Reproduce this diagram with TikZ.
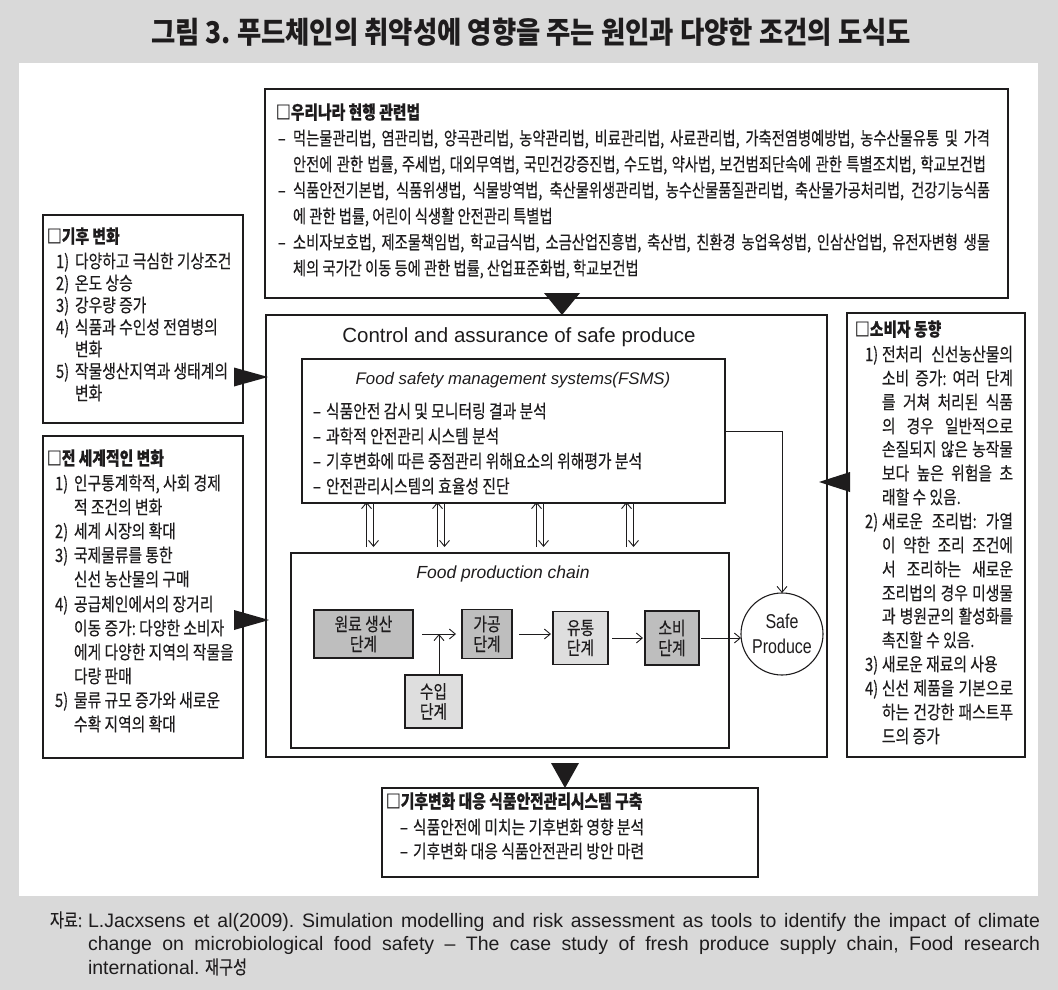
\documentclass[tikz,border=0pt]{standalone}
\usepackage{fontspec}
\usetikzlibrary{arrows.meta,calc}
\newfontfamily\kr[FakeStretch=0.80,FakeBold=0.25]{Noto Sans CJK KR}
\newfontfamily\krl[FakeStretch=0.772,FakeBold=0.25]{Noto Sans CJK KR}
\newfontfamily\krt[FakeStretch=0.88]{Noto Sans CJK KR}
\newfontfamily\lat{Liberation Sans}
\newfontfamily\latc[FakeStretch=0.8]{Liberation Sans}
\definecolor{bggray}{RGB}{217,217,217}
\definecolor{dbox}{RGB}{190,190,190}
\definecolor{lbox}{RGB}{222,222,222}
\definecolor{ink}{RGB}{30,28,29}
\newcommand\jus[2]{\hbox to #1pt{#2}}
\begin{document}
\frenchspacing
\begin{tikzpicture}[x=1pt,y=-1pt,
  every node/.style={inner sep=0pt,outer sep=0pt,text=ink},
  box/.style={draw=ink,line width=1.2pt,fill=white},
  txt/.style={anchor=base west,font=\kr\fontsize{18.5}{20}\selectfont},
  lawtxt/.style={anchor=base west,font=\krl\fontsize{18.5}{20}\selectfont},
  hdr/.style={anchor=base west,font=\kr\bfseries\fontsize{18.5}{20}\selectfont},
  stagebox/.style={draw=ink,line width=1.2pt,align=center,font=\kr\fontsize{18.5}{20}\selectfont},
  arrowline/.style={draw=ink,line width=0.9pt,-{Straight Barb[length=6pt,width=10pt]}},
  srctxt/.style={anchor=base west,font=\lat\frenchspacing\fontsize{19.5}{23}\selectfont},
  tri/.style={fill=ink}]
% background
\fill[bggray] (0,0) rectangle (1058,990);
\useasboundingbox (0,0) rectangle (1058,990);
\fill[white] (19,63) rectangle (1038,896);

% title
\node[font=\krt\bfseries\fontsize{30}{32}\selectfont] (title) at (531,32) {그림 3. 푸드체인의 취약성에 영향을 주는 원인과 다양한 조건의 도식도};

% boxes
\node[box,minimum width=743pt,minimum height=209pt] (law) at (636.5,193.5) {};
\node[box,minimum width=200pt,minimum height=208pt] (clim) at (143,319) {};
\node[box,minimum width=200pt,minimum height=322pt] (glob) at (143,597) {};
\node[box,minimum width=178pt,minimum height=444pt] (cons) at (936,535) {};
\node[box,minimum width=561pt,minimum height=442pt] (big) at (546.5,536) {};
\node[box,minimum width=423pt,minimum height=144pt] (fsms) at (513.5,431) {};
\node[box,minimum width=438pt,minimum height=195pt] (chain) at (510,650.5) {};
\node[box,minimum width=376pt,minimum height=89pt] (bot) at (570,832.5) {};

% law box text
\node[hdr] (lawh) at (276,119) {□우리나라 현행 관련법};
\node[lawtxt] (lawd1) at (278,145) {–};
\node[lawtxt] (law1) at (293,145) {\jus{697}{먹는물관리법, 염관리법, 양곡관리법, 농약관리법, 비료관리법, 사료관리법, 가축전염병예방법, 농수산물유통 및 가격}};
\node[lawtxt] (law2) at (293,171) {\jus{693}{안전에 관한 법률, 주세법, 대외무역법, 국민건강증진법, 수도법, 약사법, 보건범죄단속에 관한 특별조치법, 학교보건법}};
\node[lawtxt] (lawd3) at (278,197) {–};
\node[lawtxt] (law3) at (293,197) {\jus{697}{식품안전기본법, 식품위생법, 식물방역법, 축산물위생관리법, 농수산물품질관리법, 축산물가공처리법, 건강기능식품}};
\node[lawtxt] (law4) at (293,223) {에 관한 법률, 어린이 식생활 안전관리 특별법};
\node[lawtxt] (lawd5) at (278,249) {–};
\node[lawtxt] (law5) at (293,249) {\jus{697}{소비자보호법, 제조물책임법, 학교급식법, 소금산업진흥법, 축산법, 친환경 농업육성법, 인삼산업법, 유전자변형 생물}};
\node[lawtxt] (law6) at (293,275) {체의 국가간 이동 등에 관한 법률, 산업표준화법, 학교보건법};

% climate box text
\node[hdr] (climh) at (47,243) {□기후 변화};
\node[txt] (climn1) at (56,268) {1)};
\node[txt] (clim1) at (75,268) {다양하고 극심한 기상조건};
\node[txt] (climn2) at (56,290) {2)};
\node[txt] (clim2) at (75,290) {온도 상승};
\node[txt] (climn3) at (56,312) {3)};
\node[txt] (clim3) at (75,312) {강우량 증가};
\node[txt] (climn4) at (56,334) {4)};
\node[txt] (clim4) at (75,334) {식품과 수인성 전염병의};
\node[txt] (clim5) at (75,356) {변화};
\node[txt] (climn6) at (56,378) {5)};
\node[txt] (clim6) at (75,378) {작물생산지역과 생태계의};
\node[txt] (clim7) at (75,400) {변화};

% global box text
\node[hdr] (globh) at (47,465) {□전 세계적인 변화};
\node[txt] (globn1) at (55,490) {1)};
\node[txt] (glob1) at (74,490) {인구통계학적, 사회 경제};
\node[txt] (glob2) at (74,514) {적 조건의 변화};
\node[txt] (globn3) at (55,538) {2)};
\node[txt] (glob3) at (74,538) {세계 시장의 확대};
\node[txt] (globn4) at (55,562) {3)};
\node[txt] (glob4) at (74,562) {국제물류를 통한};
\node[txt] (glob5) at (74,586) {신선 농산물의 구매};
\node[txt] (globn6) at (55,611) {4)};
\node[txt] (glob6) at (74,611) {공급체인에서의 장거리};
\node[txt] (glob7) at (74,635) {이동 증가: 다양한 소비자};
\node[txt] (glob8) at (74,659) {에게 다양한 지역의 작물을};
\node[txt] (glob9) at (74,683) {다량 판매};
\node[txt] (globn10) at (55,707) {5)};
\node[txt] (glob10) at (74,707) {물류 규모 증가와 새로운};
\node[txt] (glob11) at (74,731) {수확 지역의 확대};

% consumer box text
\node[hdr] (consh) at (855,336) {□소비자 동향};
\node[txt] (consn1) at (865,361) {1)};
\node[txt] (cons1) at (882,361) {\jus{131}{전처리 신선농산물의}};
\node[txt] (cons2) at (882,385) {\jus{131}{소비 증가: 여러 단계}};
\node[txt] (cons3) at (882,409) {\jus{131}{를 거쳐 처리된 식품}};
\node[txt] (cons4) at (882,433) {\jus{131}{의 경우 일반적으로}};
\node[txt] (cons5) at (882,456) {\jus{131}{손질되지 않은 농작물}};
\node[txt] (cons6) at (882,480) {\jus{131}{보다 높은 위험을 초}};
\node[txt] (cons7) at (882,504) {래할 수 있음.};
\node[txt] (consn8) at (865,528) {2)};
\node[txt] (cons8) at (882,528) {\jus{131}{새로운 조리법: 가열}};
\node[txt] (cons9) at (882,552) {\jus{131}{이 약한 조리 조건에}};
\node[txt] (cons10) at (882,576) {\jus{131}{서 조리하는 새로운}};
\node[txt] (cons11) at (882,600) {\jus{131}{조리법의 경우 미생물}};
\node[txt] (cons12) at (882,623) {\jus{131}{과 병원균의 활성화를}};
\node[txt] (cons13) at (882,647) {촉진할 수 있음.};
\node[txt] (consn14) at (865,671) {3)};
\node[txt] (cons14) at (882,671) {새로운 재료의 사용};
\node[txt] (consn15) at (865,695) {4)};
\node[txt] (cons15) at (882,695) {\jus{131}{신선 제품을 기본으로}};
\node[txt] (cons16) at (882,719) {\jus{131}{하는 건강한 패스트푸}};
\node[txt] (cons17) at (882,743) {드의 증가};

% control box title and FSMS
\node[anchor=base,font=\lat\fontsize{20.5}{24}\selectfont] (ctitle) at (519,342) {Control and assurance of safe produce};
\node[anchor=base,font=\lat\itshape\fontsize{16.8}{20}\selectfont] (ftitle) at (513,384) {Food safety management systems(FSMS)};
\node[txt] (fd1) at (313,418) {–};
\node[txt] (f1) at (326,418) {식품안전 감시 및 모니터링 결과 분석};
\node[txt] (fd2) at (313,443) {–};
\node[txt] (f2) at (326,443) {과학적 안전관리 시스템 분석};
\node[txt] (fd3) at (313,468) {–};
\node[txt] (f3) at (326,468) {기후변화에 따른 중점관리 위해요소의 위해평가 분석};
\node[txt] (fd4) at (313,493) {–};
\node[txt] (f4) at (326,493) {안전관리시스템의 효율성 진단};

% food production chain
\node[anchor=base,font=\lat\itshape\fontsize{17.5}{20}\selectfont] (ptitle) at (503,578) {Food production chain};
\node[stagebox,fill=dbox,minimum width=99pt,minimum height=48pt] (s1) at (363.5,634) {원료 생산\\단계};
\node[stagebox,fill=dbox,minimum width=50pt,minimum height=49pt] (s2) at (487,634) {가공\\단계};
\node[stagebox,fill=lbox,minimum width=55pt,minimum height=53pt] (s3) at (580.5,638) {유통\\단계};
\node[stagebox,fill=dbox,minimum width=54pt,minimum height=54pt] (s4) at (672,638) {소비\\단계};
\node[stagebox,fill=lbox,minimum width=57pt,minimum height=53pt] (s5) at (433.5,701.5) {수입\\단계};
\node[circle,draw=ink,line width=1.1pt,fill=white,minimum size=82pt,align=center,font=\latc\fontsize{20}{25}\selectfont] (safe) at (782,634) {Safe\\Produce};

% chain arrows
\draw[arrowline,shorten <=9pt,shorten >=6pt] (s1.east) -- (s1.east -| s2.west);
\coordinate (ux) at (439,0);
\draw[arrowline] (ux |- s5.north) -- (ux |- s1.east);
\draw[arrowline,shorten <=7pt,shorten >=2pt] (s2.east) -- (s2.east -| s3.west);
\draw[arrowline,shorten <=4pt,shorten >=2pt] (s3.east) -- (s3.east -| s4.west);
\draw[arrowline,shorten <=2pt] (s4.east) -- (s4.east -| safe.west);
\draw[arrowline] (fsms.east) -| (safe.north);

% double arrows between FSMS and chain
\foreach \i/\x in {1/370,2/441,3/540,4/630}{
  \coordinate (p\i) at (\x,0);
  \draw[arrowline] ($(chain.north -| p\i)+(-3.5,-6)$) -- ($(fsms.south -| p\i)+(-3.5,-1)$);
  \draw[arrowline] ($(fsms.south -| p\i)+(3.5,1)$) -- ($(chain.north -| p\i)+(3.5,-6)$);
}

% triangles
\coordinate (tx1) at (562,0);
\fill[tri] ($(tx1 |- law.south)+(-18,-5)$) -- ++(36,0) -- (tx1 |- big.north) -- cycle;
\coordinate (tx2) at (565,0);
\fill[tri] ($(tx2 |- big.south)+(-14,6)$) -- ++(28,0) -- (tx2 |- bot.north) -- cycle;
\coordinate (ty3) at (0,377);
\fill[tri] ($(clim.east |- ty3)+(-9,-9.5)$) -- ++(0,19) -- ($(big.west |- ty3)+(2,0)$) -- cycle;
\coordinate (ty4) at (0,620);
\fill[tri] ($(glob.east |- ty4)+(-9,-10)$) -- ++(0,20) -- ($(big.west |- ty4)+(3,0)$) -- cycle;
\coordinate (ty5) at (0,482);
\fill[tri] ($(cons.west |- ty5)+(3,-10)$) -- ++(0,20) -- ($(big.east |- ty5)+(-8,0)$) -- cycle;

% bottom box text
\node[hdr] (both) at (386,808) {□기후변화 대응 식품안전관리시스템 구축};
\node[txt] (botd1) at (400,834) {–};
\node[txt] (bot1) at (413,834) {식품안전에 미치는 기후변화 영향 분석};
\node[txt] (botd2) at (400,858) {–};
\node[txt] (bot2) at (413,858) {기후변화 대응 식품안전관리 방안 마련};

% source
\node[anchor=base west,font=\kr\fontsize{19}{22}\selectfont] (srck) at (50,927) {자료:};
\node[srctxt] (src1) at (88,927) {\jus{952}{L.Jacxsens et al(2009). Simulation modelling and risk assessment as tools to identify the impact of climate}};
\node[srctxt] (src2) at (88,950) {\jus{952}{change on microbiological food safety – The case study of fresh produce supply chain, Food research}};
\node[srctxt] (src3) at (88,974) {international. {\kr\fontsize{19}{22}\selectfont 재구성}};
\end{tikzpicture}
\end{document}
